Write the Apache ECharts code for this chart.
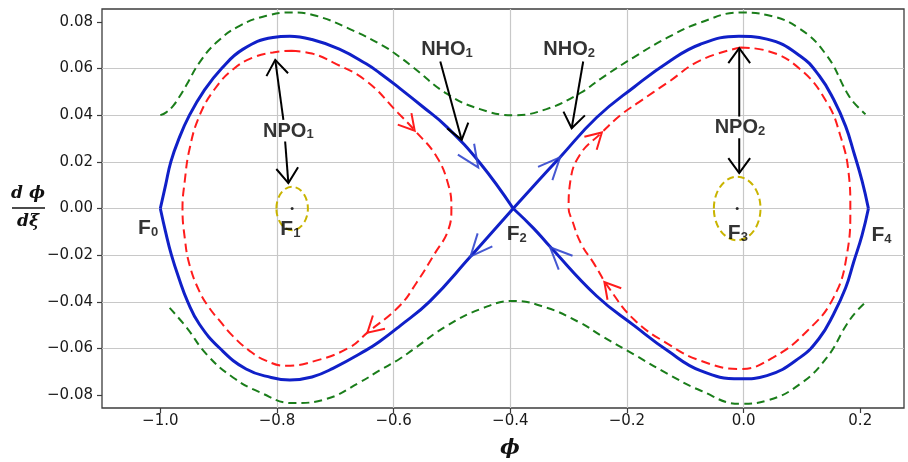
<!DOCTYPE html>
<html>
<head>
<meta charset="utf-8">
<script src="https://cdn.jsdelivr.net/npm/echarts@6/dist/echarts.min.js"></script>
<style>
  html, body { margin: 0; padding: 0; background: #fff; }
  #chart { width: 908px; height: 462px; }
</style>
</head>
<body>
<div id="chart"></div>
<script>
// Axis ticks
const xTicks = [-1.0, -0.8, -0.6, -0.4, -0.2, 0.0, 0.2];
const yTicks = [-0.08, -0.06, -0.04, -0.02, 0.0, 0.02, 0.04, 0.06, 0.08];

// Separatrix (blue): four arcs joining the saddles F0, F2, F4
const blueUpperLeft = [[-1.000,0.0000],[-0.991,0.0100],[-0.982,0.0200],[-0.968,0.0300],[-0.950,0.0400],[-0.925,0.0505],[-0.895,0.0600],[-0.858,0.0683],[-0.807,0.0733],[-0.778,0.0738],[-0.740,0.0724],[-0.693,0.0683],[-0.647,0.0620],[-0.624,0.0581],[-0.590,0.0516],[-0.550,0.0436],[-0.509,0.0350],[-0.452,0.0195],[-0.395,0.0000]];
const blueLowerLeft = [[-1.000,0.0000],[-0.991,-0.0100],[-0.981,-0.0199],[-0.968,-0.0300],[-0.953,-0.0400],[-0.933,-0.0496],[-0.898,-0.0599],[-0.853,-0.0688],[-0.810,-0.0724],[-0.778,-0.0735],[-0.740,-0.0722],[-0.704,-0.0685],[-0.647,-0.0607],[-0.624,-0.0570],[-0.590,-0.0505],[-0.538,-0.0398],[-0.469,-0.0208],[-0.395,0.0000]];
const blueUpperRight = [[-0.395,0.0000],[-0.355,0.0110],[-0.315,0.0219],[-0.252,0.0390],[-0.187,0.0522],[-0.130,0.0626],[-0.074,0.0704],[-0.008,0.0738],[0.040,0.0726],[0.097,0.0654],[0.130,0.0568],[0.154,0.0469],[0.175,0.0352],[0.189,0.0240],[0.203,0.0119],[0.214,0.0000]];
const blueLowerRight = [[-0.395,0.0000],[-0.360,-0.0085],[-0.332,-0.0163],[-0.252,-0.0375],[-0.187,-0.0503],[-0.130,-0.0610],[-0.074,-0.0695],[-0.006,-0.0730],[0.040,-0.0716],[0.097,-0.0638],[0.130,-0.0555],[0.154,-0.0454],[0.175,-0.0340],[0.189,-0.0227],[0.203,-0.0115],[0.214,0.0000]];

// Closed orbits (red dashed) around the centres F1 and F3
const redLeft = [[-0.775,0.0676],[-0.740,0.0664],[-0.704,0.0626],[-0.647,0.0547],[-0.593,0.0411],[-0.564,0.0335],[-0.527,0.0225],[-0.506,0.0100],[-0.501,0.0000],[-0.506,-0.0090],[-0.530,-0.0195],[-0.561,-0.0319],[-0.590,-0.0418],[-0.645,-0.0532],[-0.676,-0.0596],[-0.733,-0.0652],[-0.785,-0.0674],[-0.819,-0.0652],[-0.847,-0.0610],[-0.876,-0.0546],[-0.898,-0.0482],[-0.916,-0.0426],[-0.933,-0.0355],[-0.950,-0.0241],[-0.958,-0.0128],[-0.962,0.0000],[-0.958,0.0120],[-0.950,0.0254],[-0.933,0.0397],[-0.907,0.0511],[-0.875,0.0597],[-0.841,0.0647],[-0.807,0.0669],[-0.775,0.0676]];
const redRight = [[-0.005,0.0690],[0.040,0.0676],[0.097,0.0597],[0.143,0.0454],[0.166,0.0311],[0.180,0.0154],[0.183,0.0000],[0.177,-0.0199],[0.154,-0.0383],[0.109,-0.0525],[0.051,-0.0638],[-0.006,-0.0688],[-0.074,-0.0652],[-0.130,-0.0580],[-0.187,-0.0478],[-0.231,-0.0340],[-0.257,-0.0234],[-0.279,-0.0149],[-0.294,-0.0050],[-0.300,0.0000],[-0.297,0.0118],[-0.280,0.0233],[-0.246,0.0319],[-0.211,0.0400],[-0.180,0.0455],[-0.130,0.0540],[-0.074,0.0635],[-0.005,0.0690]];

// Open orbits (green dashed) outside the separatrix
const greenUpper = [[-1.000,0.0400],[-0.990,0.0412],[-0.978,0.0440],[-0.967,0.0480],[-0.955,0.0530],[-0.933,0.0625],[-0.904,0.0711],[-0.864,0.0783],[-0.818,0.0826],[-0.775,0.0840],[-0.733,0.0826],[-0.675,0.0769],[-0.618,0.0697],[-0.590,0.0650],[-0.567,0.0606],[-0.509,0.0492],[-0.452,0.0426],[-0.395,0.0400],[-0.338,0.0426],[-0.280,0.0495],[-0.244,0.0558],[-0.187,0.0650],[-0.130,0.0733],[-0.074,0.0797],[-0.005,0.0840],[0.040,0.0829],[0.097,0.0769],[0.143,0.0654],[0.177,0.0497],[0.189,0.0454],[0.209,0.0404]];
const greenLower = [[-0.984,-0.0426],[-0.955,-0.0510],[-0.921,-0.0624],[-0.876,-0.0723],[-0.830,-0.0787],[-0.773,-0.0834],[-0.715,-0.0816],[-0.658,-0.0745],[-0.624,-0.0694],[-0.590,-0.0645],[-0.567,-0.0605],[-0.509,-0.0503],[-0.452,-0.0432],[-0.395,-0.0396],[-0.338,-0.0425],[-0.280,-0.0490],[-0.244,-0.0545],[-0.187,-0.0627],[-0.130,-0.0709],[-0.074,-0.0780],[-0.006,-0.0837],[0.040,-0.0823],[0.097,-0.0752],[0.143,-0.0638],[0.177,-0.0496],[0.194,-0.0440],[0.211,-0.0397]];

// Small periodic orbits around the centres: [centre x, centre y, half-width, half-height]
const smallOrbits = [[-0.774, 0.0, 0.027, 0.0093], [-0.011, 0.0, 0.040, 0.0136]];
const centres = [[-0.774, 0.0], [-0.011, 0.0]];

// Flow-direction chevrons: tip point and a point behind it on the trajectory
const blueArrowTip  = [[-0.455, 0.0176], [-0.3146, 0.0219], [-0.4682, -0.0205], [-0.3318, -0.0166]];
const blueArrowFrom = [[-0.480, 0.0269], [-0.345, 0.0137], [-0.440, -0.0125], [-0.300, -0.0245]];
const redArrowTip   = [[-0.5639, 0.0333], [-0.645, -0.0532], [-0.243, 0.0326], [-0.2387, -0.0315]];
const redArrowFrom  = [[-0.590, 0.0410], [-0.620, -0.0475], [-0.270, 0.0262], [-0.2187, -0.0375]];

// Pointer arrows from the labels
const pointerTail = [[-0.789, 0.0380], [-0.786, 0.0287], [-0.520, 0.0630], [-0.275, 0.0630], [-0.0075, 0.0394], [-0.0075, 0.0301]];
const pointerTip  = [[-0.803, 0.0637], [-0.7805, 0.0109], [-0.4833, 0.0294], [-0.2948, 0.0344], [-0.0075, 0.0687], [-0.0075, 0.0152]];

// Text labels
const pointNames = ['F', 'F', 'F', 'F', 'F'];
const pointSubs  = ['0', '1', '2', '3', '4'];
const pointPos   = [[-1.021, -0.0085], [-0.777, -0.0090], [-0.389, -0.0110], [-0.0098, -0.0106], [0.2365, -0.0114]];
const orbitNames = ['NPO', 'NHO', 'NHO', 'NPO'];
const orbitSubs  = ['1', '1', '2', '2'];
const orbitPos   = [[-0.7805, 0.0331], [-0.5085, 0.0680], [-0.2991, 0.0680], [-0.0063, 0.0346]];

const BLUE = '#1020c8', RED = '#ff1c1c', GREEN = '#1a7d1a', OLIVE = '#c9b400';
const LABEL_FONT = '"Liberation Sans", Arial, sans-serif';

function fmt(v, d) { return (+v).toFixed(d).replace('-', '\u2212'); }

function curve(data, color, width, dash) {
  return {
    type: 'line', data: data, smooth: 0.45, symbol: 'none', silent: true,
    lineStyle: { color: color, width: width, type: dash || 'solid' }, z: dash ? 3 : 4
  };
}

function chevronSeries(tips, froms, color, arm, half, width) {
  return {
    type: 'custom', coordinateSystem: 'cartesian2d', silent: true, z: 6,
    data: tips.map((t, i) => [t[0], t[1], froms[i][0], froms[i][1]]),
    renderItem: function (params, api) {
      const tip = api.coord([api.value(0), api.value(1)]);
      const from = api.coord([api.value(2), api.value(3)]);
      const a = Math.atan2(tip[1] - from[1], tip[0] - from[0]);
      const p1 = [tip[0] - arm * Math.cos(a - half), tip[1] - arm * Math.sin(a - half)];
      const p2 = [tip[0] - arm * Math.cos(a + half), tip[1] - arm * Math.sin(a + half)];
      return { type: 'polyline', shape: { points: [p1, tip, p2] },
               style: { stroke: color, lineWidth: width, fill: 'none' } };
    }
  };
}

function labelSeries(pos, names, subs, size) {
  return {
    type: 'scatter', silent: true, z: 10, symbolSize: 1,
    itemStyle: { color: 'rgba(0,0,0,0)' },
    data: pos.map((p, i) => [p[0], p[1], i]),
    label: {
      show: true, position: 'inside',
      formatter: p => '{b|' + names[p.data[2]] + '}{s|' + subs[p.data[2]] + '}',
      rich: {
        b: { fontFamily: LABEL_FONT, fontWeight: 'bold', fontSize: size, color: '#000' },
        s: { fontFamily: LABEL_FONT, fontWeight: 'bold', fontSize: 13, color: '#000', verticalAlign: 'bottom' }
      }
    }
  };
}

const chart = echarts.init(document.getElementById('chart'), null, { renderer: 'canvas' });

chart.setOption({
  animation: false,
  grid: { left: 102, right: 4, top: 9, bottom: 54, show: true, borderColor: '#3c3c3c', borderWidth: 1.3, containLabel: false, outerBoundsMode: 'none' },
  xAxis: {
    type: 'value', min: -1.1, max: 0.275, splitNumber: 7,
    axisLine: { show: false, onZero: false },
    axisTick: { show: true, length: 5, customValues: xTicks, lineStyle: { color: '#3c3c3c', width: 1.2 } },
    axisLabel: { customValues: xTicks, formatter: v => fmt(v, 1), fontFamily: 'DejaVu Sans', fontSize: 15, color: '#1a1a1a', margin: 6 },
    splitLine: { show: true, showMinLine: false, showMaxLine: false, lineStyle: { color: '#c8c8c8', width: 1.2 } }
  },
  yAxis: {
    type: 'value', min: -0.0855, max: 0.0855, splitNumber: 8,
    axisLine: { show: false, onZero: false },
    axisTick: { show: true, length: 5, customValues: yTicks, lineStyle: { color: '#3c3c3c', width: 1.2 } },
    axisLabel: { customValues: yTicks, formatter: v => fmt(v, 2), fontFamily: 'DejaVu Sans', fontSize: 15, color: '#1a1a1a', margin: 9 },
    splitLine: { show: true, showMinLine: false, showMaxLine: false, lineStyle: { color: '#c8c8c8', width: 1.2 } }
  },
  graphic: [
    { type: 'text', x: 28, y: 194, z: 10,
      style: { text: 'd \u03D5', font: 'italic bold 17px "DejaVu Serif"', fill: '#111',
               align: 'center', verticalAlign: 'middle', textAlign: 'center', textVerticalAlign: 'middle' } },
    { type: 'line', z: 10, shape: { x1: 12, y1: 208, x2: 45, y2: 208 }, style: { stroke: '#111', lineWidth: 1.5 } },
    { type: 'text', x: 28, y: 222, z: 10,
      style: { text: 'd\u03BE', font: 'italic bold 17px "DejaVu Serif"', fill: '#111',
               align: 'center', verticalAlign: 'middle', textAlign: 'center', textVerticalAlign: 'middle' } },
    { type: 'text', x: 510, y: 449, z: 10,
      style: { text: '\u03D5', font: 'italic bold 21px "DejaVu Serif"', fill: '#111',
               align: 'center', verticalAlign: 'middle', textAlign: 'center', textVerticalAlign: 'middle' } }
  ],
  series: [
    curve(greenUpper, GREEN, 2, [8, 5]),
    curve(greenLower, GREEN, 2, [8, 5]),
    curve(redLeft, RED, 2, [9, 5]),
    curve(redRight, RED, 2, [9, 5]),
    curve(blueUpperLeft, BLUE, 3),
    curve(blueLowerLeft, BLUE, 3),
    curve(blueUpperRight, BLUE, 3),
    curve(blueLowerRight, BLUE, 3),
    {
      type: 'custom', coordinateSystem: 'cartesian2d', silent: true, z: 5,
      data: smallOrbits,
      renderItem: function (params, api) {
        const c = api.coord([api.value(0), api.value(1)]);
        const s = api.size([api.value(2), api.value(3)]);
        return { type: 'ellipse', shape: { cx: c[0], cy: c[1], rx: s[0], ry: s[1] },
                 style: { fill: 'none', stroke: OLIVE, lineWidth: 2, lineDash: [7, 4] } };
      }
    },
    { type: 'scatter', silent: true, z: 6, data: centres, symbolSize: 3, itemStyle: { color: '#000' } },
    chevronSeries(blueArrowTip, blueArrowFrom, 'rgba(50,70,205,0.9)', 24, 0.42, 2),
    chevronSeries(redArrowTip, redArrowFrom, RED, 18, 0.52, 2),
    {
      type: 'custom', coordinateSystem: 'cartesian2d', silent: true, z: 7,
      data: pointerTail.map((t, i) => [t[0], t[1], pointerTip[i][0], pointerTip[i][1]]),
      renderItem: function (params, api) {
        const a0 = api.coord([api.value(0), api.value(1)]);
        const a1 = api.coord([api.value(2), api.value(3)]);
        const ang = Math.atan2(a1[1] - a0[1], a1[0] - a0[0]);
        const arm = 18.5, half = 0.63;
        const p1 = [a1[0] - arm * Math.cos(ang - half), a1[1] - arm * Math.sin(ang - half)];
        const p2 = [a1[0] - arm * Math.cos(ang + half), a1[1] - arm * Math.sin(ang + half)];
        return { type: 'group', children: [
          { type: 'line', shape: { x1: a0[0], y1: a0[1], x2: a1[0], y2: a1[1] }, style: { stroke: '#000', lineWidth: 2 } },
          { type: 'polyline', shape: { points: [p1, a1, p2] }, style: { stroke: '#000', lineWidth: 2, fill: 'none' } }
        ] };
      }
    },
    labelSeries(pointPos, pointNames, pointSubs, 21),
    labelSeries(orbitPos, orbitNames, orbitSubs, 20)
  ]
});
</script>
</body>
</html>
